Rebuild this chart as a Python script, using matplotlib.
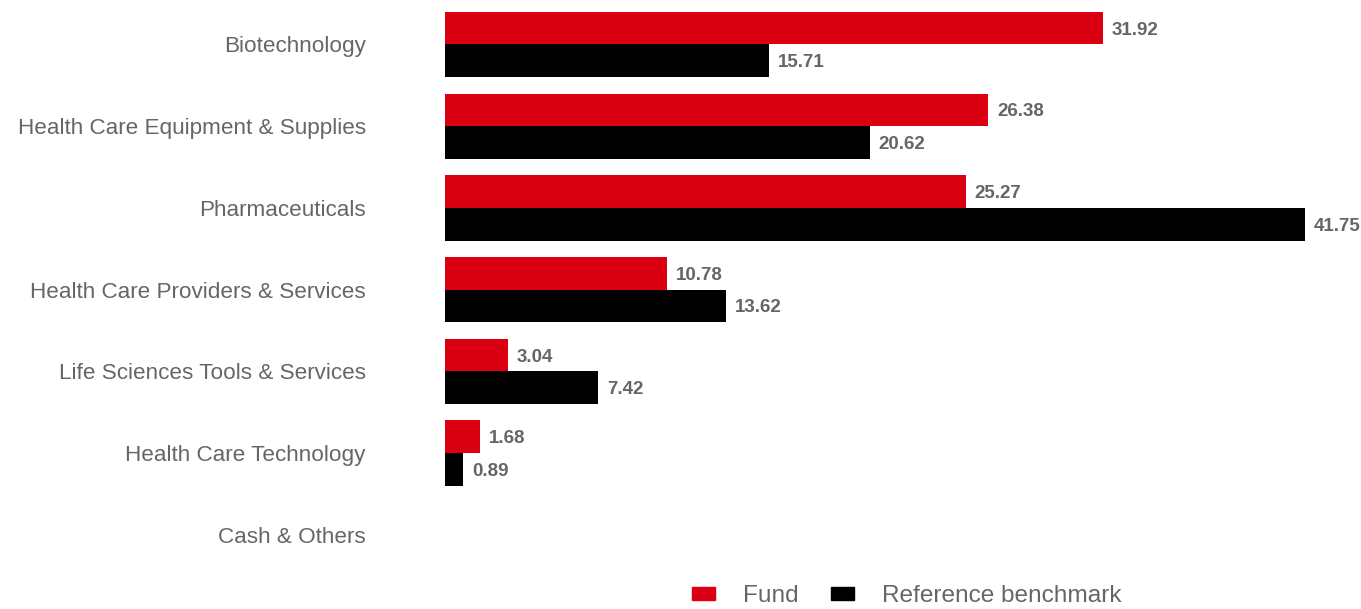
import numpy as np
import matplotlib.pyplot as plt
from matplotlib.patches import Patch

plt.rcParams['font.family'] = ['Liberation Sans', 'DejaVu Sans']

categories = ['Biotechnology', 'Health Care Equipment & Supplies', 'Pharmaceuticals',
              'Health Care Providers & Services', 'Life Sciences Tools & Services',
              'Health Care Technology', 'Cash & Others']
fund = [31.92, 26.38, 25.27, 10.78, 3.04, 1.68, np.nan]
benchmark = [15.71, 20.62, 41.75, 13.62, 7.42, 0.89, np.nan]
series_names = ['Fund', 'Reference benchmark']

RED = '#db0011'
BLACK = '#000000'
GREY = '#666666'

fig = plt.figure(figsize=(13.61, 6.09), dpi=100)
ax = fig.add_axes([445 / 1361, 1 - 575.5 / 609, 1 - 445 / 1361, (575.5 - 3.65) / 609])

y = np.arange(len(categories))
h = 0.40
ax.barh(y - h / 2, np.nan_to_num(fund), height=h, color=RED)
ax.barh(y + h / 2, np.nan_to_num(benchmark), height=h, color=BLACK)

for yi, v in zip(y - h / 2, fund):
    if not np.isnan(v):
        ax.annotate(f'{v:.2f}', (v, yi), xytext=(6.5, -1.5), textcoords='offset points',
                    va='center', ha='left', fontsize=13.5, fontweight='bold', color=GREY)
for yi, v in zip(y + h / 2, benchmark):
    if not np.isnan(v):
        ax.annotate(f'{v:.2f}', (v, yi), xytext=(6.5, -1.5), textcoords='offset points',
                    va='center', ha='left', fontsize=13.5, fontweight='bold', color=GREY)

ax.set_xlim(0, (1361 - 445) / 20.6)
ax.set_ylim(len(categories) - 0.5, -0.5)
ax.set_yticks(y)
ax.set_yticklabels(categories, fontsize=16.2, color=GREY)
ax.tick_params(axis='y', length=0, pad=57)
ax.set_xticks([])
for s in ax.spines.values():
    s.set_visible(False)

handles = [Patch(color=RED), Patch(color=BLACK)]
fig.legend(handles, series_names, loc='center', bbox_to_anchor=(907 / 1361, 1 - 596 / 609),
           ncol=2, frameon=False, fontsize=17.6, labelcolor=GREY,
           handlelength=0.92, handleheight=0.45, handletextpad=1.16, columnspacing=1.32,
           borderpad=0, borderaxespad=0)

fig.savefig('out.png', dpi=100)
